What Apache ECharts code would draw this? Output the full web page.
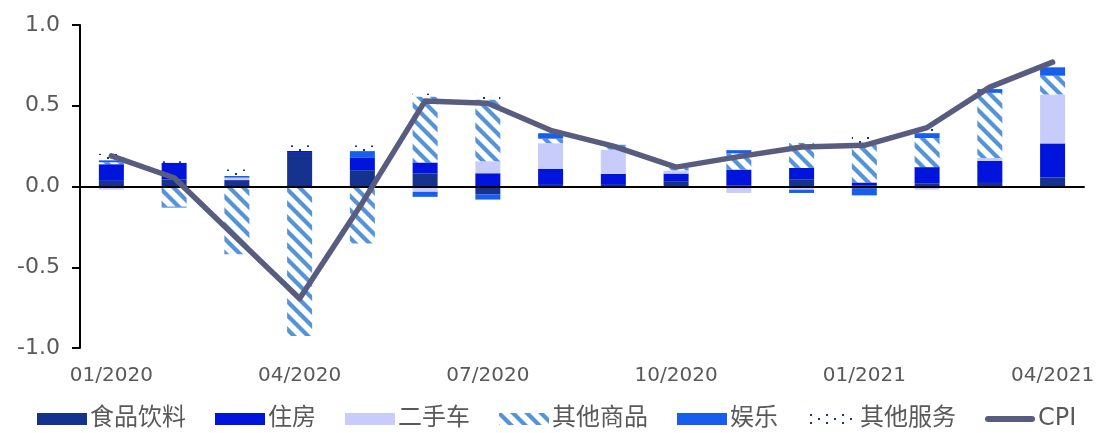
<!DOCTYPE html>
<html>
<head>
<meta charset="utf-8">
<script src="https://cdn.jsdelivr.net/npm/echarts@6/dist/echarts.min.js"></script>
<style>
html,body{margin:0;padding:0;background:#fff;}
#chart{width:1097px;height:433px;}
</style>
</head>
<body>
<div id="chart"></div>
<script>
const categories = ['01/2020','02/2020','03/2020','04/2020','05/2020','06/2020','07/2020','08/2020','09/2020','10/2020','11/2020','12/2020','01/2021','02/2021','03/2021','04/2021'];
const food = [0.035, 0.043, 0.035, 0.208, 0.101, 0.08, -0.05, 0.01, 0.01, 0.033, 0.005, 0.045, 0.005, 0.02, 0.022, 0.056];
const housing = [0.103, 0.103, 0.005, 0.012, 0.076, 0.069, 0.082, 0.10, 0.068, 0.047, 0.10, 0.07, 0.02, 0.10, 0.137, 0.211];
const usedCars = [-0.02, 0, 0.015, -0.01, 0, -0.033, 0.075, 0.158, 0.15, 0.02, -0.04, -0.02, -0.01, -0.02, 0.018, 0.303];
const otherGoods = [0.012, -0.125, -0.42, -0.915, -0.353, 0.406, 0.38, 0.028, 0.025, 0.015, 0.10, 0.155, 0.24, 0.18, 0.403, 0.116];
const recreation = [0.012, -0.005, 0.01, 0, 0.042, -0.031, -0.031, 0.034, 0.005, 0, 0.02, -0.02, -0.045, 0.03, 0.023, 0.052];
const otherServices = [0.04, 0.01, 0.04, 0.035, 0.035, 0.02, 0.03, 0, -0.01, -0.01, 0, 0, 0.045, 0.03, 0, 0];
const cpi = [0.19, 0.054, -0.32, -0.694, -0.1, 0.53, 0.515, 0.348, 0.25, 0.12, 0.185, 0.245, 0.255, 0.365, 0.615, 0.77];
const seriesNames = ['食品饮料','住房','二手车','其他商品','娱乐','其他服务','CPI'];
const yTicks = [-1.0, -0.5, 0.0, 0.5, 1.0];

function hatchPattern(){
  const s = 14;
  const c = document.createElement('canvas');
  c.width = s; c.height = s;
  const g = c.getContext('2d');
  g.fillStyle = '#ffffff';
  g.fillRect(0,0,s,s);
  g.strokeStyle = '#5594DC';
  g.lineWidth = 4.2;
  for (let k=-1;k<=1;k++){
    g.beginPath();
    g.moveTo(-2, -2 + k*s);
    g.lineTo(s+2, s+2 + k*s);
    g.stroke();
  }
  return c;
}
function dotPattern(){
  const c = document.createElement('canvas');
  c.width = 16; c.height = 8;
  const g = c.getContext('2d');
  g.fillStyle = '#1f3366';
  g.fillRect(3,1,2,2);
  g.fillRect(11,5,2,2);
  return c;
}

const FONT = '"DejaVu Sans", "Noto Sans CJK SC", sans-serif';
const chart = echarts.init(document.getElementById('chart'), null, {renderer:'canvas'});

const barColors = ['#15328F', '#0014DC', '#C8CCFA', {image: hatchPattern(), repeat:'repeat'}, '#175EEE', {image: dotPattern(), repeat:'repeat'}];
const barData = [food, housing, usedCars, otherGoods, recreation, otherServices];

const series = barData.map((d,i)=>({
  name: seriesNames[i],
  type: 'bar',
  stack: 'total',
  barWidth: 25,
  data: d,
  itemStyle: {color: barColors[i]},
  z: 2
}));
series.push({
  name: 'CPI',
  type: 'line',
  data: cpi,
  symbol: 'none',
  lineStyle: {color:'#585D80', width:5.5, cap:'round', join:'round'},
  itemStyle: {color:'#585D80'},
  z: 20
});

const lineIcon = 'path://M3,0 L47,0 A3,3 0 0 1 47,6 L3,6 A3,3 0 0 1 3,0 Z';

chart.setOption({
  animation: false,
  backgroundColor: '#ffffff',
  grid: {left: 80, right: 9, top: 25, bottom: 85, containLabel: false},
  legend: {
    left: 37, top: 407, padding: 0,
    itemWidth: 50, itemHeight: 12, itemGap: 29,
    textStyle: {fontSize: 24, color:'#595959', fontFamily: FONT, padding:[0,0,0,-2]},
    data: seriesNames.map((n,i)=> i<6 ? {name:n, icon:'rect'} : {name:n, icon: lineIcon})
  },
  xAxis: [{
    type: 'category',
    data: categories,
    position: 'bottom',
    axisLine: {show:false, onZero:false},
    axisTick: {show:false},
    axisLabel: {interval: 2, margin: 18, fontSize: 20, color:'#595959', fontFamily: FONT}
  },{
    type: 'category',
    data: categories,
    position: 'top',
    z: 10,
    axisLine: {show:true, onZero:true, lineStyle:{color:'#000', width:2}},
    axisTick: {show:false},
    axisLabel: {show:false}
  }],
  yAxis: {
    type: 'value',
    min: yTicks[0], max: yTicks[yTicks.length-1], interval: 0.5,
    axisLine: {show:true, lineStyle:{color:'#000', width:2}},
    axisTick: {show:true, length: 8, lineStyle:{color:'#000', width:2}},
    splitLine: {show:false},
    axisLabel: {margin: 20, fontSize: 22, color:'#595959', fontFamily: FONT, formatter: v => v.toFixed(1)}
  },
  series: series
});
</script>
</body>
</html>
